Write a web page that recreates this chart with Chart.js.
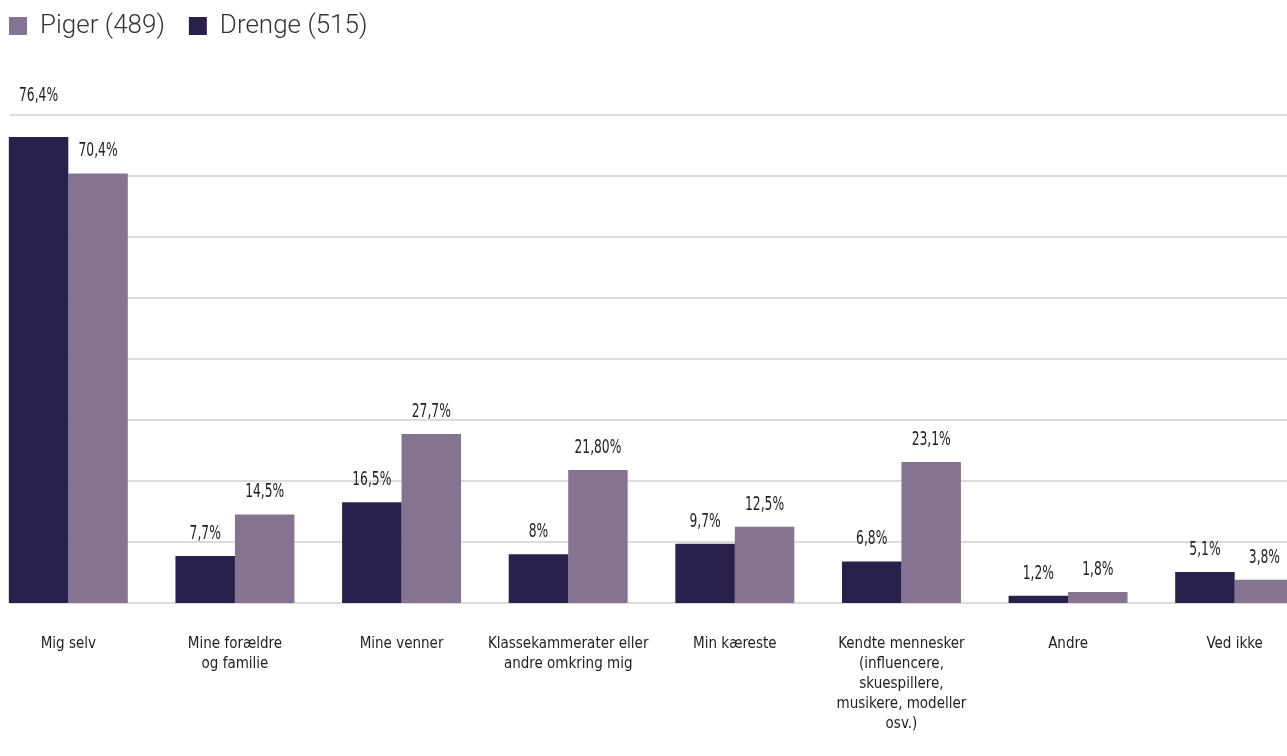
<!DOCTYPE html>
<html>
<head>
<meta charset="utf-8">
<script src="https://cdn.jsdelivr.net/npm/chart.js@4/dist/chart.umd.min.js"></script>
<style>
  html, body { margin: 0; padding: 0; background: #fff; overflow: hidden; }
  #wrap { position: relative; width: 1287px; height: 756px; overflow: hidden; }
  #chart { position: absolute; left: -15px; top: -11px; }
</style>
</head>
<body>
<div id="wrap"><canvas id="chart" width="1340" height="790"></canvas></div>
<script>
// categories (multi-line labels as the picture wraps them)
const categories = [
  "Mig selv",
  ["Mine forældre", "og familie"],
  "Mine venner",
  ["Klassekammerater eller", "andre omkring mig"],
  "Min kæreste",
  ["Kendte mennesker", "(influencere,", "skuespillere,", "musikere, modeller", "osv.)"],
  "Andre",
  "Ved ikke"
];

const drengeValues = [76.4, 7.7, 16.5, 8, 9.7, 6.8, 1.2, 5.1];
const pigerValues  = [70.4, 14.5, 27.7, 21.8, 12.5, 23.1, 1.8, 3.8];

// value labels exactly as printed
const drengeLabels = ["76,4%", "7,7%", "16,5%", "8%", "9,7%", "6,8%", "1,2%", "5,1%"];
const pigerLabels  = ["70,4%", "14,5%", "27,7%", "21,80%", "12,5%", "23,1%", "1,8%", "3,8%"];

const yTicks = [0, 10, 20, 30, 40, 50, 60, 70, 80];

const DARK = "#29214b";
const MAUVE = "#847492";
const condensed = "'DejaVu Sans Condensed', 'Liberation Sans Narrow', sans-serif";

// push the plot down under the legend
const legendMargin = {
  id: 'legendMargin',
  beforeInit(chart) {
    const fit = chart.legend.fit;
    chart.legend.fit = function () {
      fit.bind(chart.legend)();
      this.height += 66;
    };
  }
};

// light grey horizontal lines, starting at the left margin of the page
const gridLines = {
  id: 'gridLines',
  beforeDatasetsDraw(chart) {
    const y = chart.scales.y;
    const ctx = chart.ctx;
    ctx.save();
    ctx.strokeStyle = "#dcdcdc";
    ctx.lineWidth = 2;
    y.ticks.forEach(t => {
      const py = Math.round(y.getPixelForValue(t.value));
      ctx.beginPath();
      ctx.moveTo(25, py);
      ctx.lineTo(chart.width, py);
      ctx.stroke();
    });
    ctx.restore();
  }
};

// percentage labels above the bars (tall, squeezed type like the original)
const valueLabels = {
  id: 'valueLabels',
  afterDatasetsDraw(chart) {
    const ctx = chart.ctx;
    const top = chart.chartArea.top;
    const sx = 0.72;
    ctx.save();
    ctx.font = "19px " + condensed;
    ctx.fillStyle = "#1e1e1e";
    ctx.textAlign = "center";
    ctx.textBaseline = "middle";
    chart.data.datasets.forEach((ds, i) => {
      const meta = chart.getDatasetMeta(i);
      meta.data.forEach((bar, j) => {
        let ly = bar.y - 22;
        if (ly < top + 12) ly = top - 19; // keep clear of the top line
        ctx.save();
        ctx.translate(bar.x, ly);
        ctx.scale(sx, 1);
        ctx.fillText(ds.valueLabels[j], 0, 0);
        ctx.restore();
      });
    });
    ctx.restore();
  }
};

new Chart(document.getElementById("chart"), {
  type: 'bar',
  data: {
    labels: categories,
    datasets: [
      { label: "Drenge (515)", data: drengeValues, valueLabels: drengeLabels, backgroundColor: DARK },
      { label: "Piger (489)", data: pigerValues, valueLabels: pigerLabels, backgroundColor: MAUVE }
    ]
  },
  options: {
    responsive: false,
    animation: false,
    layout: { padding: { left: 0, right: 7, top: 0, bottom: 14 } },
    datasets: { bar: { categoryPercentage: 0.714, barPercentage: 1.0 } },
    plugins: {
      tooltip: { enabled: false },
      legend: {
        position: 'top',
        align: 'start',
        reverse: true,
        labels: {
          boxWidth: 18,
          boxHeight: 18,
          padding: 24,
          color: "#333333",
          font: { family: "Roboto, 'Noto Sans', sans-serif", size: 26, weight: 300 },
          generateLabels(chart) {
            const items = Chart.defaults.plugins.legend.labels.generateLabels(chart);
            items.forEach(it => { it.lineWidth = 0; });
            return items;
          }
        }
      }
    },
    scales: {
      x: {
        grid: { display: false, drawTicks: false },
        border: { display: false },
        ticks: {
          autoSkip: false,
          maxRotation: 0,
          padding: 31,
          color: "#1e1e1e",
          font: { family: condensed, size: 15, lineHeight: '20px' }
        }
      },
      y: {
        display: false,
        min: 0,
        max: 80,
        afterBuildTicks(scale) { scale.ticks = yTicks.map(v => ({ value: v })); }
      }
    }
  },
  plugins: [legendMargin, gridLines, valueLabels]
});
</script>
</body>
</html>
